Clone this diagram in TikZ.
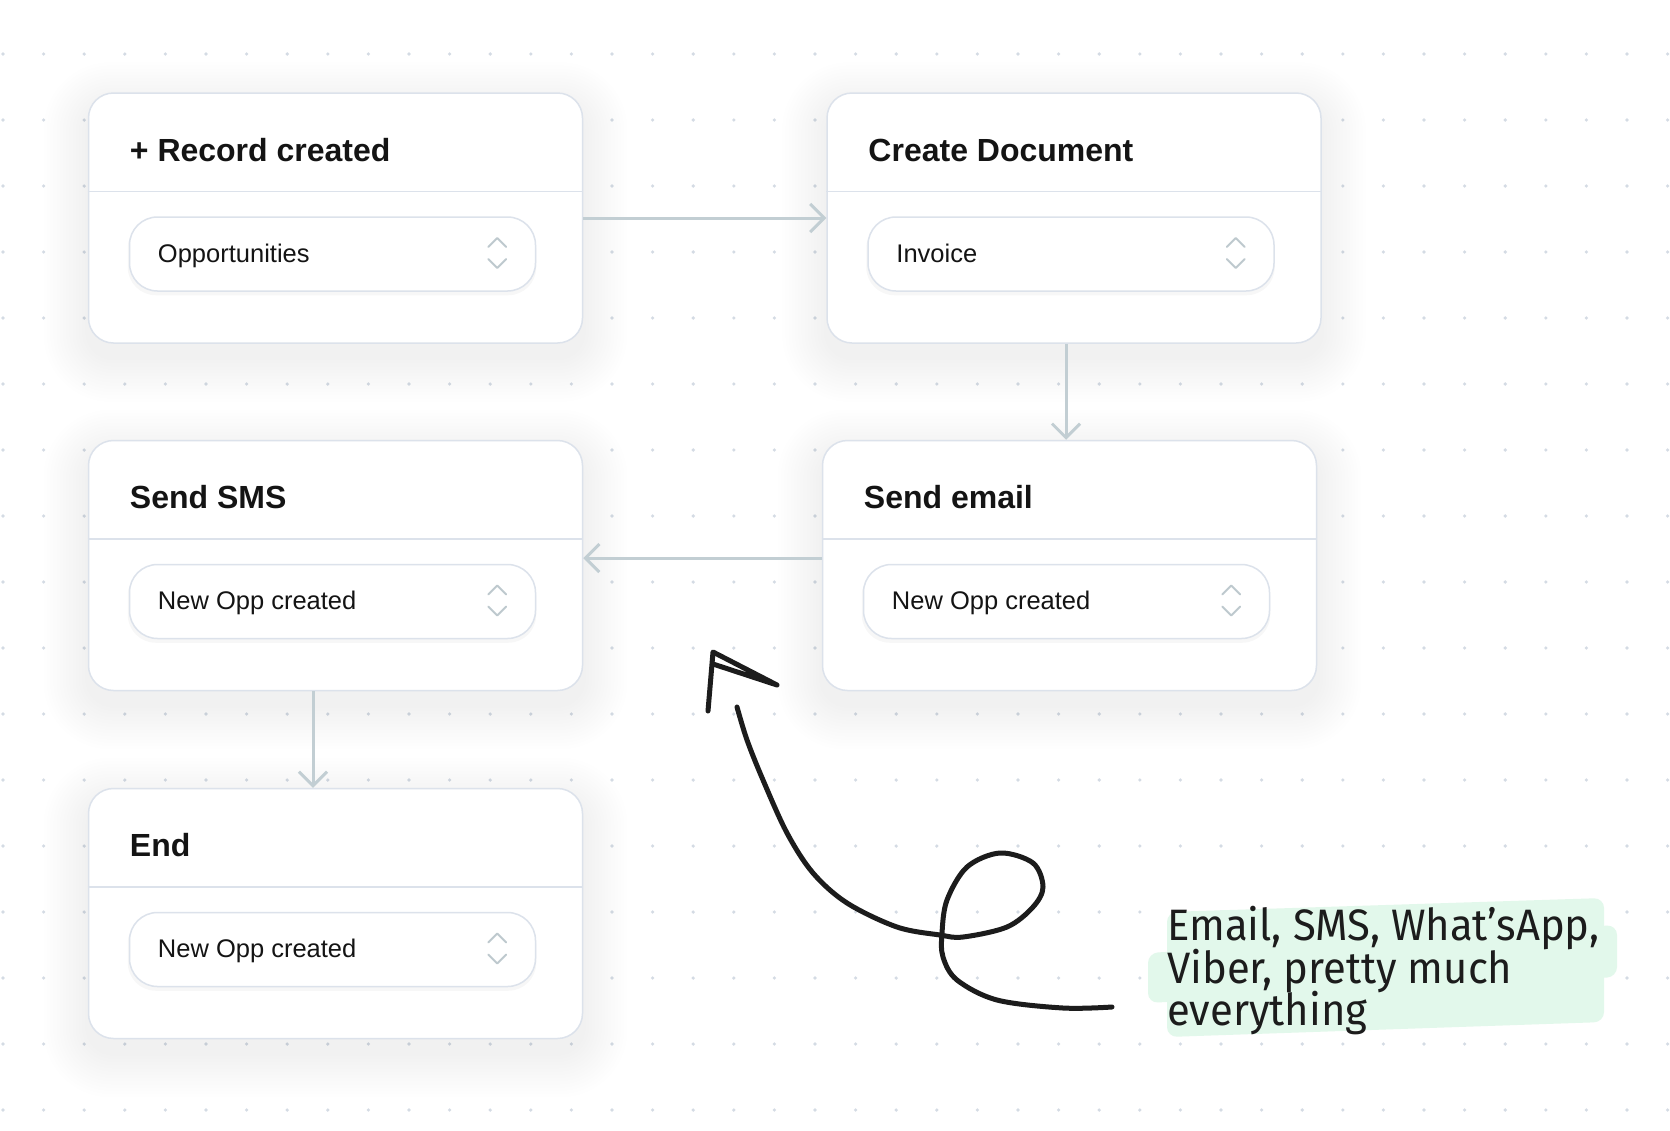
\documentclass[tikz,border=0pt]{standalone}
\usepackage{fontspec}
\setmainfont{Liberation Sans}
\newfontfamily\handfont[FakeStretch=0.95]{Fira Sans}
\usetikzlibrary{arrows.meta}
\definecolor{dotc}{RGB}{212,219,228}
\definecolor{cardline}{RGB}{220,226,235}
\definecolor{conn}{RGB}{194,206,211}
\definecolor{chev}{RGB}{190,201,206}
\definecolor{mint}{RGB}{226,248,235}
\definecolor{ink}{RGB}{28,28,28}
\definecolor{txt}{RGB}{20,20,20}

\newcommand\cardshadow[2]{%
  \foreach \i in {1,...,14}{%
    \pgfmathsetmacro\rr{25+\i*3}
    \fill[black,opacity=0.005,rounded corners=\rr pt]
      (#1-247-\i*3.2, #2-125-\i*3.2+14) rectangle (#1+247+\i*3.2, #2+125+\i*3.2+14);
  }}

\newcommand\flowcard[5]{%
  \node[card] (#1) at (#2,#3) {};
  \draw[cardline, line width=1.5pt] ([yshift=-99pt]#1.north west) -- ([yshift=-99pt]#1.north east);
  \node[cardtitle, anchor=base west] (#1-t) at ([xshift=42pt,yshift=-69pt]#1.north west) {#4};
  \fill[black,opacity=0.03,rounded corners=28pt]
    ([xshift=40pt,yshift=-128pt]#1.north west) rectangle ([xshift=-47pt,yshift=-203pt]#1.north east);
  \node[dropbox, anchor=north west] (#1-d) at ([xshift=41pt,yshift=-124pt]#1.north west) {};
  \node[droptext, anchor=base west] (#1-x) at ([xshift=29pt,yshift=-8pt]#1-d.west) {#5};
  \coordinate (#1-c) at ([xshift=-39pt]#1-d.east);
  \draw[chevron] ([shift={(-9,-7)}]#1-c) -- ([shift={(0,-16)}]#1-c) -- ([shift={(9,-7)}]#1-c);
  \draw[chevron] ([shift={(-9,5)}]#1-c) -- ([shift={(0,14)}]#1-c) -- ([shift={(9,5)}]#1-c);
}

\begin{document}
\begin{tikzpicture}[x=1pt,y=-1pt,
  card/.style={draw=cardline, line width=1.5pt, fill=white, rounded corners=25pt,
    minimum width=494pt, minimum height=250pt, inner sep=0pt},
  dropbox/.style={draw=cardline, line width=1.5pt, fill=white, rounded corners=28pt,
    minimum width=406pt, minimum height=74pt, inner sep=0pt},
  cardtitle/.style={font=\bfseries\fontsize{32}{38}\selectfont, text=txt, inner sep=0pt},
  droptext/.style={font=\fontsize{25.5}{30}\selectfont, text=txt, inner sep=0pt},
  chevron/.style={draw=chev, line width=2pt, line cap=round, line join=round},
  connector/.style={draw=conn, line width=3pt, -{Straight Barb[length=14pt,width=28pt]}},
  handtext/.style={font=\handfont\fontsize{44}{43}\selectfont, text=ink, inner sep=0pt},
  scribble/.style={draw=ink, line width=5pt, line cap=round, line join=round}
]
\useasboundingbox (0,0) rectangle (1670,1130);
\fill[white] (0,0) rectangle (1670,1130);

% dot grid
\foreach \i in {0,...,41}{
  \foreach \j in {0,...,16}{
    \fill[dotc] (3+\i*40.6, 54+\j*66) circle (1.8);
  }}

% shadows
\cardshadow{335.5}{218}
\cardshadow{1074}{218}
\cardshadow{1069.5}{565.5}
\cardshadow{335.5}{565.5}
\cardshadow{335.5}{913.5}

% cards
\flowcard{b1}{335.5}{218}{+ Record created}{Opportunities}
\flowcard{b2}{1074}{218}{Create Document}{Invoice}
\flowcard{b4}{1069.5}{565.5}{Send email}{New Opp created}
\flowcard{b3}{335.5}{565.5}{Send SMS}{New Opp created}
\flowcard{b5}{335.5}{913.5}{End}{New Opp created}

% connectors
\draw[connector] (b1.east) -- (b2.west);
\draw[connector] ([xshift=-8pt]b2.south) -- ([xshift=-8pt]b2.south |- b4.north);
\draw[connector] ([yshift=7.5pt]b4.west) -- ([yshift=7.5pt]b3.east);
\draw[connector] ([xshift=-22.5pt]b3.south) -- ([xshift=-22.5pt]b3.south |- b5.north);

% highlight
\fill[mint, rounded corners=10pt] (1167,912) -- (1604,898) -- (1604,1022) -- (1167,1037) -- cycle;
\fill[mint, rounded corners=10pt] (1148,953) -- (1617,925) -- (1617,977) -- (1148,1003) -- cycle;

% note text
\node[handtext, anchor=base west] (n1) at (1167,940) {Email, SMS, What’sApp,};
\node[handtext, anchor=base west] (n2) at (1167,983) {Viber, pretty much};
\node[handtext, anchor=base west] (n3) at (1167,1025) {everything};

% scribbled arrow
\coordinate (s0) at (1112,1007);
\coordinate (s1) at (737,707);
\draw[scribble] plot[smooth, tension=0.55] coordinates {
  (s0) (1063,1008) (997,1000) (957,980) (943,957) (942,933) (947,900) (967,867)
  (1000,853) (1033,863) (1043,887) (1033,907) (1007,927) (963,937) (940,935)
  (897,927) (847,903) (813,873) (787,833) (763,780) (747,740) (s1)};
\draw[scribble] (708,711) -- (713,652) -- (777,685) -- (713,664);
\end{tikzpicture}
\end{document}
